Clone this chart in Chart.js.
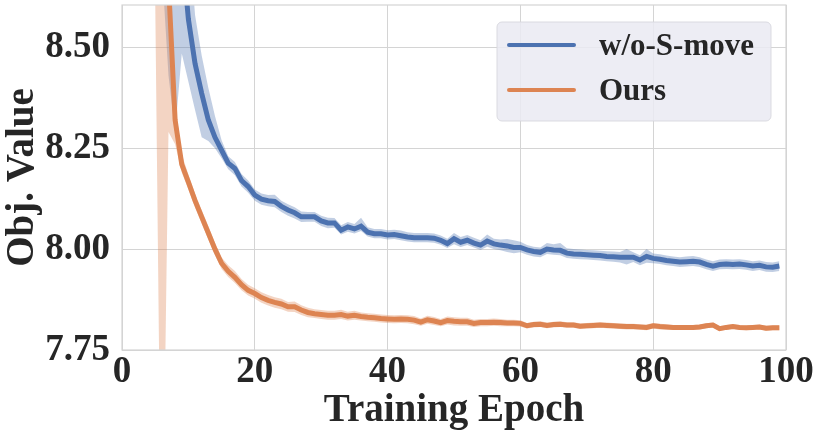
<!DOCTYPE html>
<html>
<head>
<meta charset="utf-8">
<script src="https://cdn.jsdelivr.net/npm/chart.js@4.4.1/dist/chart.umd.min.js"></script>
<style>
  html, body { margin: 0; padding: 0; background: #fff; }
  #wrap { width: 822px; height: 438px; }
</style>
</head>
<body>
<div id="wrap"><canvas id="chart"></canvas></div>
<script>
// epochs shown (earlier ones are far above the plotted range)
const epochs = [4, 5, 6, 7, 8, 9, 10, 11, 12, 13, 14, 15, 16, 17, 18, 19, 20, 21, 22, 23,
  24, 25, 26, 27, 28, 29, 30, 31, 32, 33, 34, 35, 36, 37, 38, 39, 40, 41, 42, 43,
  44, 45, 46, 47, 48, 49, 50, 51, 52, 53, 54, 55, 56, 57, 58, 59, 60, 61, 62, 63,
  64, 65, 66, 67, 68, 69, 70, 71, 72, 73, 74, 75, 76, 77, 78, 79, 80, 81, 82, 83,
  84, 85, 86, 87, 88, 89, 90, 91, 92, 93, 94, 95, 96, 97, 98, 99];

// w/o-S-move
const moveMean = [11.0, 10.6, 10.0, 9.5, 9.1, 8.75, 8.57, 8.46, 8.386, 8.32, 8.277, 8.245, 8.213, 8.20, 8.17, 8.155, 8.134, 8.124, 8.12, 8.118,
  8.106, 8.097, 8.09, 8.08, 8.08, 8.08, 8.07, 8.065, 8.065, 8.047, 8.055, 8.05, 8.057, 8.042, 8.038, 8.038, 8.035, 8.036, 8.033, 8.03,
  8.028, 8.028, 8.028, 8.027, 8.022, 8.014, 8.026, 8.017, 8.022, 8.015, 8.01, 8.02, 8.013, 8.01, 8.008, 8.004, 8.004, 7.998, 7.994, 7.992,
  8.0, 7.998, 7.997, 7.99, 7.988, 7.987, 7.986, 7.985, 7.984, 7.982, 7.981, 7.98, 7.98, 7.98, 7.973, 7.982, 7.977, 7.975, 7.972, 7.97,
  7.968, 7.969, 7.97, 7.968, 7.962, 7.958, 7.962, 7.963, 7.962, 7.963, 7.961, 7.958, 7.96, 7.956, 7.955, 7.958];
const moveLow = [10.2, 9.6, 8.7, 8.43, 8.29, 8.485, 8.415, 8.345, 8.277, 8.268, 8.25, 8.225, 8.198, 8.183, 8.155, 8.14, 8.12, 8.11, 8.106, 8.104,
  8.092, 8.083, 8.076, 8.067, 8.068, 8.068, 8.057, 8.052, 8.053, 8.036, 8.043, 8.039, 8.045, 8.031, 8.027, 8.027, 8.024, 8.025, 8.022, 8.019,
  8.017, 8.017, 8.017, 8.016, 8.011, 8.003, 8.012, 8.005, 8.01, 8.004, 7.998, 8.006, 8.0, 7.997, 7.993, 7.99, 7.992, 7.986, 7.982, 7.98,
  7.988, 7.986, 7.985, 7.978, 7.976, 7.975, 7.974, 7.973, 7.972, 7.97, 7.969, 7.967, 7.962, 7.968, 7.96, 7.966, 7.965, 7.963, 7.96, 7.958,
  7.956, 7.957, 7.958, 7.956, 7.95, 7.946, 7.95, 7.951, 7.95, 7.951, 7.949, 7.946, 7.948, 7.944, 7.943, 7.946];
const moveHigh = [11.8, 11.5, 11.2, 10.6, 9.9, 9.2, 8.8, 8.58, 8.48, 8.40, 8.33, 8.27, 8.23, 8.216, 8.186, 8.17, 8.148, 8.138, 8.134, 8.135,
  8.12, 8.111, 8.104, 8.093, 8.092, 8.092, 8.083, 8.078, 8.077, 8.059, 8.067, 8.062, 8.078, 8.054, 8.05, 8.05, 8.047, 8.048, 8.046, 8.042,
  8.04, 8.04, 8.04, 8.039, 8.034, 8.026, 8.04, 8.03, 8.035, 8.028, 8.022, 8.036, 8.026, 8.024, 8.025, 8.022, 8.018, 8.01, 8.006, 8.004,
  8.015, 8.012, 8.015, 8.002, 8.0, 7.999, 7.998, 7.997, 7.996, 7.995, 7.994, 7.993, 8.0, 7.992, 7.985, 8.0, 7.989, 7.987, 7.984, 7.982,
  7.98, 7.982, 7.983, 7.98, 7.974, 7.97, 7.974, 7.975, 7.974, 7.975, 7.973, 7.97, 7.972, 7.968, 7.967, 7.97];

// Ours
const oursMean = [10.8, 10.0, 9.4, 8.66, 8.32, 8.21, 8.166, 8.12, 8.08, 8.04, 8.0, 7.965, 7.945, 7.93, 7.912, 7.898, 7.89, 7.88, 7.873, 7.868,
  7.864, 7.857, 7.857, 7.849, 7.843, 7.84, 7.838, 7.836, 7.836, 7.838, 7.834, 7.836, 7.833, 7.831, 7.83, 7.828, 7.827, 7.826, 7.827, 7.826,
  7.824, 7.819, 7.825, 7.822, 7.818, 7.823, 7.821, 7.82, 7.82, 7.816, 7.818, 7.818, 7.819, 7.818, 7.817, 7.817, 7.816, 7.81, 7.813, 7.814,
  7.811, 7.813, 7.814, 7.812, 7.812, 7.809, 7.81, 7.811, 7.812, 7.811, 7.81, 7.809, 7.808, 7.808, 7.807, 7.806, 7.81, 7.808, 7.807, 7.806,
  7.806, 7.806, 7.806, 7.807, 7.81, 7.812, 7.803, 7.806, 7.808, 7.806, 7.805, 7.806, 7.807, 7.804, 7.805, 7.805];
const oursLow = [10.0, 8.62, 7.11, 8.29, 8.26, 8.19, 8.148, 8.103, 8.063, 8.024, 7.985, 7.951, 7.931, 7.916, 7.898, 7.885, 7.877, 7.867, 7.86, 7.855,
  7.851, 7.845, 7.844, 7.837, 7.831, 7.829, 7.827, 7.825, 7.825, 7.827, 7.823, 7.825, 7.823, 7.821, 7.82, 7.818, 7.817, 7.816, 7.817, 7.816,
  7.814, 7.81, 7.815, 7.812, 7.809, 7.813, 7.811, 7.81, 7.81, 7.807, 7.809, 7.809, 7.81, 7.809, 7.809, 7.809, 7.808, 7.803, 7.806, 7.807,
  7.804, 7.806, 7.807, 7.805, 7.805, 7.802, 7.803, 7.804, 7.805, 7.804, 7.803, 7.802, 7.801, 7.801, 7.8, 7.799, 7.803, 7.801, 7.8, 7.8,
  7.8, 7.8, 7.8, 7.801, 7.804, 7.806, 7.797, 7.8, 7.802, 7.8, 7.799, 7.8, 7.801, 7.798, 7.799, 7.799];
const oursHigh = [11.6, 11.4, 11.0, 8.80, 8.36, 8.235, 8.185, 8.137, 8.097, 8.057, 8.016, 7.979, 7.96, 7.946, 7.926, 7.912, 7.903, 7.893, 7.886, 7.881,
  7.877, 7.869, 7.87, 7.861, 7.855, 7.851, 7.849, 7.847, 7.847, 7.85, 7.845, 7.847, 7.843, 7.841, 7.84, 7.838, 7.837, 7.836, 7.837, 7.836,
  7.834, 7.828, 7.835, 7.832, 7.827, 7.833, 7.831, 7.83, 7.83, 7.825, 7.827, 7.827, 7.828, 7.827, 7.825, 7.825, 7.824, 7.817, 7.82, 7.821,
  7.818, 7.82, 7.821, 7.819, 7.819, 7.816, 7.817, 7.818, 7.819, 7.818, 7.817, 7.816, 7.815, 7.815, 7.814, 7.813, 7.817, 7.815, 7.814, 7.812,
  7.812, 7.812, 7.812, 7.813, 7.816, 7.818, 7.809, 7.812, 7.814, 7.812, 7.811, 7.812, 7.813, 7.81, 7.811, 7.811];

const xTicks = [0, 20, 40, 60, 80, 100];
const yTicks = [7.75, 8.00, 8.25, 8.50];

const BLUE = '#4c72b0';
const ORANGE = '#dd8452';
const TEXT = '#262626';
const GRID = '#d4d4d4';
const SERIF = '"Liberation Serif", "Times New Roman", serif';

const pts = arr => arr.map((v, i) => ({ x: epochs[i], y: v }));

function band(data, color, order) {
  return { label: '', data: pts(data), borderWidth: 0, pointRadius: 0, backgroundColor: color,
           fill: false, order: order, clip: 0, isBand: true };
}

const datasets = [
  Object.assign(band(moveHigh, 'rgba(76,114,176,0.35)', 6), { fill: '+1' }),
  band(moveLow, 'rgba(76,114,176,0.35)', 6),
  { label: 'w/o-S-move', data: pts(moveMean), borderColor: BLUE, borderWidth: 5, pointRadius: 0, fill: false, order: 5, clip: 0 },
  Object.assign(band(oursHigh, 'rgba(221,132,82,0.35)', 4), { fill: '+1' }),
  band(oursLow, 'rgba(221,132,82,0.35)', 4),
  { label: 'Ours', data: pts(oursMean), borderColor: ORANGE, borderWidth: 5, pointRadius: 0, fill: false, order: 3, clip: 0 }
];

// frame around plot area + legend box inside it
const framePlugin = {
  id: 'frame',
  afterDatasetsDraw(chart) {
    const { ctx, chartArea: a } = chart;
    ctx.save();
    ctx.strokeStyle = GRID;
    ctx.lineWidth = 1.2;
    ctx.strokeRect(a.left, a.top, a.right - a.left, a.bottom - a.top);
    ctx.restore();
  },
  afterDraw(chart) {
    const ctx = chart.ctx;
    const x0 = 497, y0 = 22, w = 274, h = 99, r = 5;
    ctx.save();
    ctx.beginPath();
    ctx.roundRect(x0, y0, w, h, r);
    ctx.fillStyle = 'rgba(234,234,242,0.85)';
    ctx.fill();
    ctx.strokeStyle = 'rgba(215,215,222,0.9)';
    ctx.lineWidth = 1;
    ctx.stroke();
    const items = chart.data.datasets.filter(d => !d.isBand);
    items.forEach((d, i) => {
      const y = 45 + i * 45;
      ctx.beginPath();
      ctx.moveTo(509, y);
      ctx.lineTo(574, y);
      ctx.strokeStyle = d.borderColor;
      ctx.lineWidth = 4;
      ctx.lineCap = 'round';
      ctx.stroke();
      ctx.fillStyle = TEXT;
      ctx.font = 'bold 31px ' + SERIF;
      ctx.textBaseline = 'middle';
      ctx.textAlign = 'left';
      ctx.fillText(d.label, 599, y + 2);
    });
    ctx.restore();
  }
};

new Chart(document.getElementById('chart'), {
  type: 'line',
  data: { datasets: datasets },
  options: {
    responsive: true,
    maintainAspectRatio: false,
    animation: false,
    layout: { padding: { left: 0, right: 36, top: 5, bottom: 0 } },
    plugins: { legend: { display: false }, tooltip: { enabled: false } },
    scales: {
      x: {
        type: 'linear', min: 0, max: 100,
        afterBuildTicks: s => { s.ticks = xTicks.map(v => ({ value: v })); },
        afterFit: s => { s.height = 88; s.paddingLeft = 0; s.paddingRight = 0; },
        grid: { color: GRID, drawTicks: false },
        border: { display: false },
        ticks: { color: TEXT, padding: 0, font: { family: SERIF, size: 37, weight: 'bold' } },
        title: { display: true, text: 'Training Epoch', color: TEXT, padding: { top: 0, bottom: 4 },
                 font: { family: SERIF, size: 39, weight: 'bold', lineHeight: 1.2 } }
      },
      y: {
        min: 7.75, max: 8.605,
        afterBuildTicks: s => { s.ticks = yTicks.map(v => ({ value: v })); },
        afterFit: s => { s.width = 122; s.paddingTop = 0; s.paddingBottom = 0; },
        grid: { color: GRID, drawTicks: false },
        border: { display: false },
        ticks: { color: TEXT, padding: 12, font: { family: SERIF, size: 37, weight: 'bold' },
                 callback: v => Number(v).toFixed(2) },
        title: { display: true, text: 'Obj. Value', color: TEXT, padding: { top: 0, bottom: 0 },
                 font: { family: SERIF, size: 39, weight: 'bold', lineHeight: 1.2 } }
      }
    }
  },
  plugins: [framePlugin]
});
</script>
</body>
</html>
